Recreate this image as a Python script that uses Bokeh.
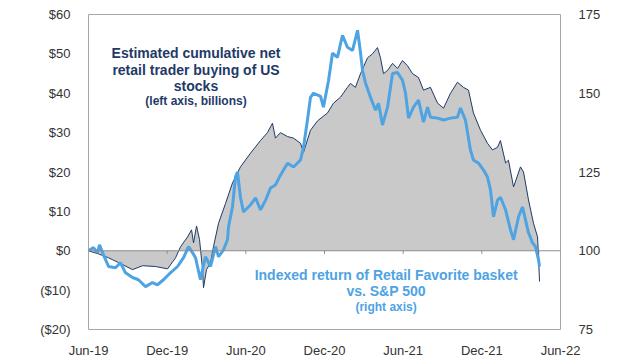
from bokeh.plotting import figure
from bokeh.models import Range1d, LinearAxis, FixedTicker, Span, Label
from bokeh.embed import file_html
from bokeh.resources import INLINE

# months since Jun-2019
tick_months = [0, 6, 12, 18, 24, 30, 36]
tick_labels = ["Jun-19", "Dec-19", "Jun-20", "Dec-20", "Jun-21", "Dec-21", "Jun-22"]
left_ticks = [-20, -10, 0, 10, 20, 30, 40, 50, 60]
left_labels = ["($20)", "($10)", "$0", "$10", "$20", "$30", "$40", "$50", "$60"]
right_ticks = [75, 100, 125, 150, 175]

# Estimated cumulative net retail buying ($bn, left axis)
retail_x = [0.0, 0.76, 1.53, 2.29, 3.36, 4.12, 5.11, 6.03, 6.64, 7.02, 7.55, 7.86, 8.01, 8.24,
            8.47, 8.70, 8.77, 9.00, 9.31, 9.53, 9.92, 10.45, 10.98, 11.59, 12.36, 13.12, 13.65,
            14.03, 14.26, 14.64, 15.18, 15.64, 16.17, 16.40, 16.93, 17.47, 18.23, 18.69, 19.22,
            19.75, 19.98, 20.36, 20.75, 21.28, 21.66, 22.04, 22.27, 22.50, 22.81, 23.19, 23.57,
            23.95, 24.33, 24.71, 25.17, 25.55, 26.08, 26.62, 27.08, 27.61, 28.14, 28.60, 28.98,
            29.36, 29.90, 30.43, 30.81, 31.20, 31.42, 31.81, 32.03, 32.42, 32.95, 33.18, 33.56,
            33.94, 34.25, 34.32, 34.40]
retail_buy = [0.0, -0.8, -1.8, -3.0, -4.8, -3.8, -4.0, -4.6, -1.8, 1.0, 3.5, 5.3, 2.0, 6.3,
              2.8, -4.8, -9.4, -4.8, -3.0, 1.0, 7.0, 12.0, 17.2, 21.3, 24.8, 28.0, 30.0,
              32.4, 28.6, 30.0, 29.0, 28.6, 27.3, 25.0, 30.6, 33.0, 35.0, 37.5, 39.0,
              41.5, 42.5, 41.5, 45.0, 49.0, 50.0, 51.6, 49.0, 45.0, 45.8, 47.6, 46.3,
              48.3, 47.0, 45.0, 44.0, 40.8, 41.5, 37.5, 36.2, 40.0, 42.8, 41.5, 40.8,
              35.0, 30.6, 27.3, 25.6, 26.3, 28.0, 22.3, 23.0, 16.2, 21.3, 20.0, 12.9,
              7.0, 3.5, -1.5, -7.8]

# Indexed return of Retail Favorite basket vs S&P 500 (right axis)
basket_x = [0.0, 0.38, 0.69, 0.84, 1.14, 1.53, 2.06, 2.44, 2.82, 3.36, 3.81, 4.35, 4.88, 5.26,
            5.72, 6.25, 6.79, 7.25, 7.63, 7.93, 8.16, 8.54, 8.70, 8.92, 9.31, 9.69, 9.92, 10.30,
            10.60, 10.68, 10.98, 11.21, 11.36, 11.59, 11.82, 12.36, 12.74, 13.12, 13.50, 13.88,
            14.26, 14.64, 15.18, 15.64, 16.17, 16.40, 16.70, 16.93, 17.16, 17.70, 17.92, 18.31,
            18.61, 18.99, 19.37, 19.75, 20.14, 20.52, 20.75, 20.90, 21.13, 21.51, 21.89, 22.12,
            22.42, 22.81, 23.19, 23.57, 23.95, 24.18, 24.41, 24.79, 25.17, 25.55, 25.86, 26.08,
            26.62, 27.08, 27.61, 28.14, 28.37, 28.75, 29.13, 29.36, 29.75, 30.13, 30.43, 30.66,
            30.89, 31.20, 31.42, 31.81, 32.19, 32.42, 32.80, 33.10, 33.33, 33.56, 33.87, 34.09,
            34.32, 34.40]
basket_idx = [100, 101, 99.4, 101.9, 98.7, 95, 94.6, 96.2, 93, 91.5, 90.8, 88.6, 89.9, 89.2,
              90.8, 93, 95, 97.8, 101.3, 99.4, 97.8, 90.8, 94, 98.1, 95, 101.3, 98.1, 100.3,
              103.5, 107.6, 113.9, 123.4, 125, 117, 112.3, 114.6, 116.8, 113, 116, 119.9,
              120.9, 124, 127.8, 126.6, 128.8, 132.9, 141.5, 148.7, 150, 149, 145.6, 154.1,
              162.7, 161.4, 168.4, 164.6, 163.6, 170, 162.7, 157.3, 153.2, 148.7, 144.6, 146.8,
              139.9, 145.6, 156.3, 156.6, 154.1, 150, 142.1, 145.6, 147.8, 140.8, 145.6, 142.4,
              142.1, 141.5, 142.1, 142.4, 145.3, 141.5, 132, 128.8, 127.8, 125.6, 123.4, 119.3,
              110.8, 116.1, 117, 113, 106.6, 103.5, 110.8, 113.9, 109.8, 105.7, 102.5, 101.3,
              97.2, 95]

NAVY = "#1f3a68"
BLUE = "#4ea3e3"
FONT = "Liberation Sans"

p = figure(width=640, height=360, output_backend="svg", toolbar_location=None,
           x_range=Range1d(0, 36), y_range=Range1d(-20, 60),
           min_border_left=88, min_border_right=80, min_border_top=14, min_border_bottom=30)
p.extra_y_ranges = {"right": Range1d(75, 175)}
p.grid.visible = False
p.outline_line_color = "#a6a6a6"
p.outline_line_width = 1
p.background_fill_color = "white"
p.border_fill_color = "white"

p.varea(x=retail_x, y1=0, y2=retail_buy, fill_color="#c9c9c9")
zero = Span(location=0, dimension="width", line_color="#8c8c8c", line_width=1)
p.add_layout(zero)
p.segment(x0=tick_months[1:-1], y0=[0] * 5, x1=tick_months[1:-1], y1=[-0.8] * 5,
          line_color="#8c8c8c", line_width=1)
p.line(retail_x, retail_buy, line_color=NAVY, line_width=1)
p.line(basket_x, basket_idx, line_color=BLUE, line_width=3, y_range_name="right")

# axes
def style_axis(ax):
    ax.axis_line_color = None
    ax.major_tick_line_color = None
    ax.minor_tick_line_color = None
    ax.major_label_text_font = FONT
    ax.major_label_text_font_size = "13px"
    ax.major_label_text_color = "#333333"

xa = p.xaxis[0]
xa.ticker = FixedTicker(ticks=tick_months)
xa.major_label_overrides = {m: l for m, l in zip(tick_months, tick_labels)}
xa.major_label_standoff = 7
style_axis(xa)

ya = p.yaxis[0]
ya.ticker = FixedTicker(ticks=left_ticks)
ya.major_label_overrides = {t: l for t, l in zip(left_ticks, left_labels)}
ya.major_label_standoff = 12
style_axis(ya)

ra = LinearAxis(y_range_name="right", ticker=FixedTicker(ticks=right_ticks))
ra.major_label_standoff = 12
style_axis(ra)
p.add_layout(ra, "right")

# annotations
def add_text(x, y, txt, color, size):
    p.add_layout(Label(x=x, y=y, text=txt, text_color=color, text_font=FONT,
                       text_font_size=size, text_font_style="bold", text_align="center",
                       text_baseline="middle"))

add_text(8.2, 50.1, "Estimated cumulative net", NAVY, "14px")
add_text(8.2, 46.0, "retail trader buying of US", NAVY, "14px")
add_text(8.2, 41.8, "stocks", NAVY, "14px")
add_text(8.2, 38.1, "(left axis, billions)", NAVY, "12px")

add_text(22.7, -6.1, "Indexed return of Retail Favorite basket", BLUE, "14px")
add_text(22.7, -10.1, "vs. S&P 500", BLUE, "14px")
add_text(22.7, -14.2, "(right axis)", BLUE, "12px")

# subtitle at the very top-left (screen units are relative to the plot frame)
p.add_layout(Label(x=-86, y=326, x_units="screen", y_units="screen", text="as of May 13, 2022",
                   text_font=FONT, text_font_size="14px", text_color="#333333",
                   text_baseline="alphabetic"))

open("out.html", "w").write(file_html(p, INLINE))
